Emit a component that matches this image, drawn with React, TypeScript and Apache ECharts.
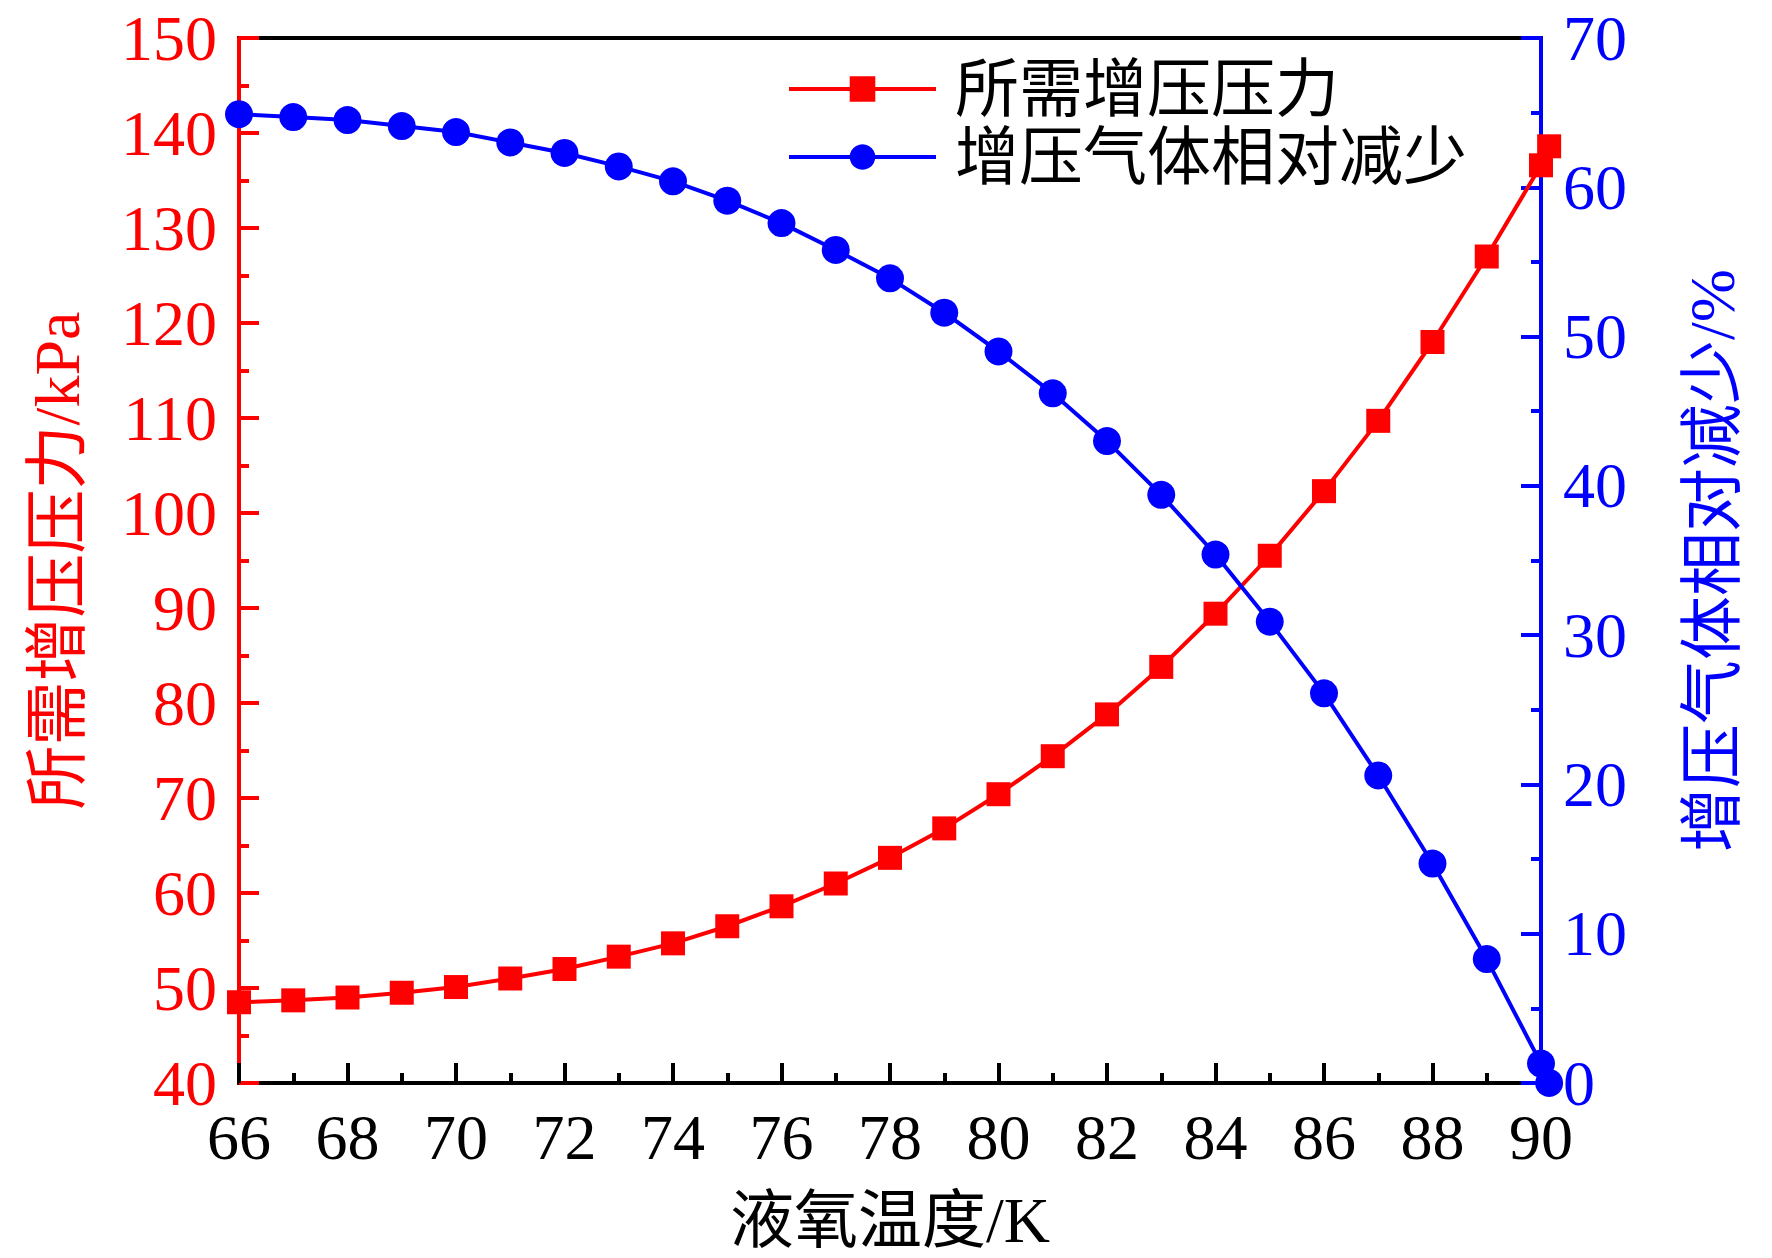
import React, { useEffect, useRef } from "react";
import * as echarts from "echarts";

const temps = [66, 67, 68, 69, 70, 71, 72, 73, 74, 75, 76, 77, 78, 79, 80, 81, 82, 83, 84, 85, 86, 87, 88, 89, 90, 90.15];
const pressure = [48.5, 48.7, 49.0, 49.5, 50.1, 51.0, 52.0, 53.3, 54.7, 56.5, 58.6, 61.0, 63.7, 66.8, 70.4, 74.4, 78.8, 83.8, 89.4, 95.5, 102.3, 109.7, 118.0, 127.0, 136.6, 138.6];
const reduction = [64.9, 64.7, 64.5, 64.1, 63.7, 63.0, 62.3, 61.4, 60.4, 59.1, 57.6, 55.8, 53.9, 51.6, 49.0, 46.2, 43.0, 39.4, 35.4, 30.9, 26.1, 20.6, 14.7, 8.3, 1.3, 0];

const seriesNames = ["所需增压压力", "增压气体相对减少"];
const xTitle = "液氧温度/K";
const yLeftTitle = "所需增压压力/kPa";
const yRightTitle = "增压气体相对减少/%";

const FONT = "'Liberation Serif', 'Times New Roman', 'Noto Sans CJK SC', serif";
const RED = "#ff0000";
const BLUE = "#0000ff";

export default function App() {
  const ref = useRef<HTMLDivElement>(null);
  useEffect(() => {
    if (!ref.current) return;
    const chart = echarts.init(ref.current, null, { renderer: "svg" });
    const axisCommon = (color: string) => ({
      axisLine: { show: true, lineStyle: { color, width: 4 } },
      axisTick: { show: true, inside: true, length: 20, lineStyle: { color, width: 4 } },
      minorTick: { show: true, splitNumber: 2, length: 10, lineStyle: { color, width: 4 } },
      splitLine: { show: false },
      axisLabel: { color, fontFamily: FONT, fontSize: 64, margin: 22 },
      nameTextStyle: { color, fontFamily: FONT, fontSize: 64 },
      nameLocation: "middle" as const,
    });
    chart.setOption({
      animation: false,
      backgroundColor: "#ffffff",
      grid: {
        left: 239,
        top: 38,
        right: 231,
        bottom: 175,
        show: true,
        borderColor: "#000",
        borderWidth: 4,
      },
      legend: {
        orient: "vertical",
        left: 782,
        top: 52,
        itemWidth: 147,
        itemHeight: 32,
        itemGap: 4,
        lineStyle: { width: 4 },
        textStyle: { color: "#000", fontFamily: FONT, fontSize: 64, lineHeight: 64, padding: [0, 0, 0, 14] },
        data: seriesNames,
      },
      xAxis: {
        type: "value",
        min: 66,
        max: 90,
        interval: 2,
        name: xTitle,
        nameGap: 105,
        ...axisCommon("#000"),
        axisLabel: { color: "#000", fontFamily: FONT, fontSize: 64, margin: 22 },
      },
      yAxis: [
        {
          type: "value",
          min: 40,
          max: 150,
          interval: 10,
          position: "left",
          name: yLeftTitle,
          nameGap: 150,
          ...axisCommon(RED),
        },
        {
          type: "value",
          min: 0,
          max: 70,
          interval: 10,
          position: "right",
          name: yRightTitle,
          nameGap: 139,
          ...axisCommon(BLUE),
        },
      ],
      series: [
        {
          name: seriesNames[0],
          type: "line",
          yAxisIndex: 0,
          clip: false,
          symbol: "rect",
          symbolSize: 24,
          lineStyle: { color: RED, width: 4 },
          itemStyle: { color: RED },
          data: temps.map((t, i) => [t, pressure[i]]),
          z: 3,
        },
        {
          name: seriesNames[1],
          type: "line",
          yAxisIndex: 1,
          clip: false,
          symbol: "circle",
          symbolSize: 28,
          lineStyle: { color: BLUE, width: 4 },
          itemStyle: { color: BLUE },
          data: temps.map((t, i) => [t, reduction[i]]),
          z: 4,
        },
      ],
    });
    return () => chart.dispose();
  }, []);
  return (
    <div
      ref={ref}
      style={{ position: "fixed", left: 0, top: 0, width: 1772, height: 1258, background: "#fff" }}
    />
  );
}
